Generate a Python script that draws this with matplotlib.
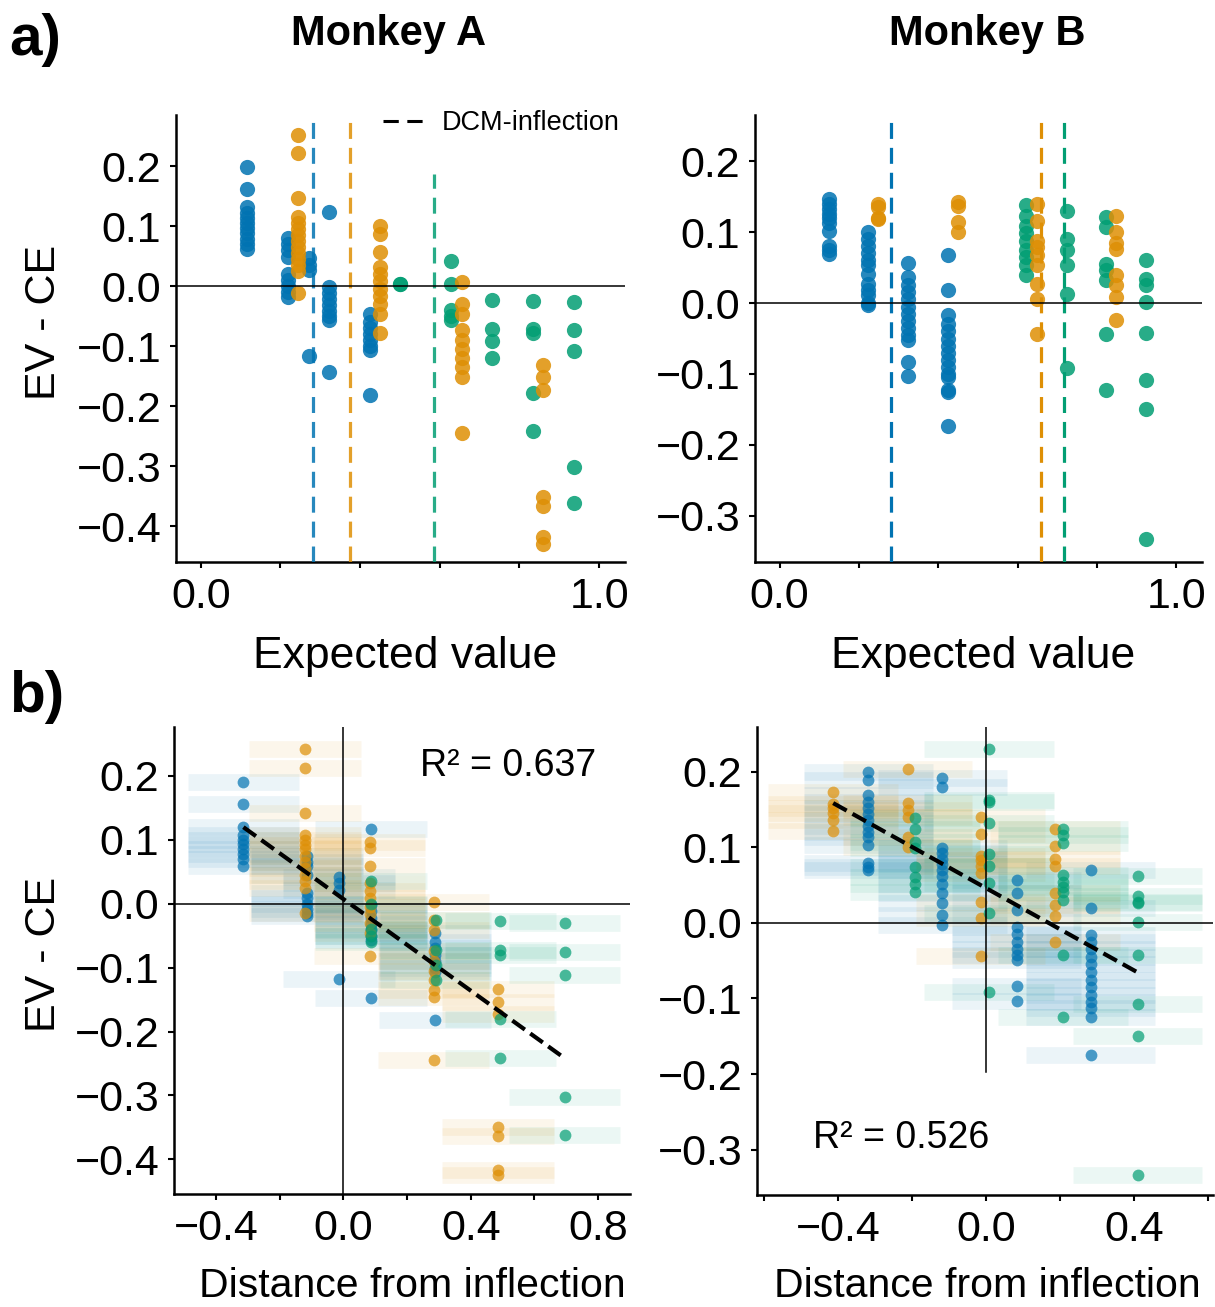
import numpy as np
import matplotlib
matplotlib.use('Agg')
import matplotlib.pyplot as plt
from matplotlib.lines import Line2D

plt.rcParams['font.family'] = ['Liberation Sans', 'DejaVu Sans']

BLUE, ORANGE, GREEN = '#0173B2', '#DE8F05', '#029E73'

# ---------------- Panel a, Monkey A (EV vs EV-CE) ----------------
evA_blue = [0.117, 0.219, 0.273, 0.322, 0.425]
ceA_blue = [[0.198, 0.162, 0.132, 0.122, 0.113, 0.105, 0.097, 0.088, 0.078, 0.07, 0.062],
            [0.08, 0.07, 0.06, 0.048, 0.02, 0.01, 0.0, -0.01, -0.018],
            [0.046, 0.035, 0.026, -0.116],
            [0.123, -0.002, -0.012, -0.022, -0.032, -0.042, -0.05, -0.057, -0.143],
            [-0.046, -0.06, -0.07, -0.08, -0.09, -0.1, -0.107, -0.181]]
evA_orange = [0.245, 0.45, 0.655, 0.858]
ceA_orange = [[0.251, 0.221, 0.147, 0.115, 0.105, 0.095, 0.085, 0.075, 0.065, 0.055, 0.045, 0.035, 0.025, -0.012],
              [0.1, 0.087, 0.057, 0.032, 0.02, 0.008, -0.005, -0.017, -0.03, -0.046, -0.078],
              [0.007, -0.03, -0.046, -0.074, -0.09, -0.105, -0.12, -0.135, -0.152, -0.245],
              [-0.132, -0.152, -0.174, -0.352, -0.366, -0.418, -0.43]]
evA_green = [0.5, 0.628, 0.731, 0.833, 0.936]
ceA_green = [[0.003, 0.003],
             [0.041, 0.003, -0.04, -0.05, -0.057],
             [-0.023, -0.071, -0.092, -0.12],
             [-0.025, -0.071, -0.078, -0.178, -0.242],
             [-0.027, -0.073, -0.108, -0.302, -0.362]]
inflA = [0.282, 0.374, 0.586]
inflA_top = [None, None, 0.187]

# ---------------- Panel a, Monkey B ----------------
evB_blue = [0.124, 0.224, 0.324, 0.425]
ceB_blue = [[0.147, 0.14, 0.133, 0.126, 0.12, 0.113, 0.101, 0.081, 0.075, 0.069],
            [0.1, 0.09, 0.08, 0.07, 0.06, 0.053, 0.041, 0.027, 0.018, 0.011, 0.0, -0.003],
            [0.056, 0.037, 0.025, 0.015, 0.005, -0.005, -0.015, -0.025, -0.035, -0.045, -0.052, -0.083, -0.103],
            [0.068, 0.018, -0.017, -0.03, -0.04, -0.05, -0.06, -0.07, -0.08, -0.09, -0.1, -0.104, -0.123, -0.125, -0.173]]
evB_orange = [0.249, 0.449, 0.648, 0.848]
ceB_orange = [[0.14, 0.135, 0.12, 0.118],
              [0.143, 0.137, 0.114, 0.1],
              [0.14, 0.116, 0.088, 0.079, 0.067, 0.053, 0.027, 0.006, -0.044],
              [0.122, 0.1, 0.084, 0.076, 0.039, 0.025, 0.009, -0.024]]
evB_green = [0.621, 0.724, 0.823, 0.924]
ceB_green = [[0.138, 0.123, 0.108, 0.098, 0.088, 0.075, 0.065, 0.054, 0.039],
             [0.13, 0.09, 0.075, 0.053, 0.013, -0.091],
             [0.121, 0.107, 0.055, 0.046, 0.032, -0.043, -0.123],
             [0.061, 0.034, 0.025, 0.001, -0.042, -0.108, -0.149, -0.332]]
inflB = [0.282, 0.659, 0.718]
inflB_top = [None, None, None]

# ---------------- Panel b, Monkey A (distance from inflection) ----------------
dA_blue = [-0.314, -0.115, -0.014, 0.087, 0.288]
yA_blue = [[0.19, 0.155, 0.12, 0.107, 0.1, 0.093, 0.085, 0.078, 0.07, 0.058],
           [0.075, 0.065, 0.058, 0.045, 0.016, 0.008, 0.0, -0.008, -0.015, -0.02],
           [0.042, 0.032, 0.021, -0.118],
           [0.117, -0.002, -0.012, -0.022, -0.032, -0.042, -0.05, -0.057, -0.147],
           [-0.046, -0.06, -0.07, -0.08, -0.09, -0.1, -0.107, -0.182]]
dA_orange = [-0.12, 0.082, 0.283, 0.486]
yA_orange = [[0.242, 0.212, 0.141, 0.107, 0.1, 0.092, 0.085, 0.075, 0.065, 0.055, 0.045, 0.035, 0.025, -0.015],
             [0.097, 0.087, 0.058, 0.032, 0.02, 0.008, -0.005, -0.017, -0.03, -0.046, -0.082],
             [0.003, -0.026, -0.042, -0.074, -0.09, -0.105, -0.12, -0.135, -0.146, -0.245],
             [-0.134, -0.154, -0.172, -0.35, -0.363, -0.417, -0.424]]
dA_green = [0.087, 0.29, 0.493, 0.695]
yA_green = [[0.036, 0.0, -0.04, -0.05, -0.06],
            [-0.026, -0.073, -0.096, -0.12],
            [-0.028, -0.073, -0.08, -0.18, -0.242],
            [-0.031, -0.076, -0.112, -0.302, -0.362]]
fitA = (-0.358, 0.007)
r2A = 'R² = 0.637'

# ---------------- Panel b, Monkey B ----------------
dB_blue = [-0.318, -0.118, 0.083, 0.283]
yB_blue = [[0.2, 0.189, 0.169, 0.16, 0.152, 0.144, 0.136, 0.128, 0.12, 0.114, 0.103, 0.079, 0.074, 0.07],
           [0.192, 0.18, 0.099, 0.092, 0.085, 0.078, 0.07, 0.062, 0.052, 0.04, 0.026, 0.01, -0.003],
           [0.057, 0.039, 0.017, -0.005, -0.015, -0.025, -0.035, -0.043, -0.049, -0.084, -0.104],
           [0.07, 0.019, -0.016, -0.025, -0.035, -0.045, -0.055, -0.065, -0.075, -0.085, -0.095, -0.105, -0.113, -0.124, -0.175]]
dB_orange = [-0.413, -0.212, -0.014, 0.187]
yB_orange = [[0.173, 0.157, 0.152, 0.145, 0.136, 0.121],
             [0.204, 0.159, 0.149, 0.14, 0.114, 0.1],
             [0.14, 0.117, 0.089, 0.083, 0.075, 0.066, 0.027, 0.006, -0.044],
             [0.124, 0.101, 0.085, 0.075, 0.039, 0.023, 0.009, -0.025]]
dB_green = [-0.192, 0.008, 0.209, 0.41]
yB_green = [[0.138, 0.124, 0.107, 0.099, 0.074, 0.061, 0.052, 0.041],
            [0.23, 0.163, 0.16, 0.132, 0.091, 0.075, 0.053, 0.013, -0.092],
            [0.124, 0.116, 0.106, 0.063, 0.054, 0.048, 0.041, 0.03, -0.042, -0.124],
            [0.062, 0.035, 0.028, 0.026, 0.001, -0.042, -0.108, -0.15, -0.334]]
fitB = (-0.272, 0.046)
r2B = 'R² = 0.526'

band_halfwidth = 0.175


def flatten(xs, vals):
    X, Y = [], []
    for x, v in zip(xs, vals):
        X += [x] * len(v)
        Y += list(v)
    return np.array(X), np.array(Y)


def style(ax, xlim, ylim, xticks, xticklabels, yticks):
    ax.set_xlim(xlim)
    ax.set_ylim(ylim)
    ax.set_xticks(xticks)
    ax.set_xticklabels(xticklabels)
    ax.set_yticks(yticks)
    for s in ['top', 'right']:
        ax.spines[s].set_visible(False)
    for s in ['left', 'bottom']:
        ax.spines[s].set_linewidth(1.8)
    ax.tick_params(direction='out', length=4.5, width=1.5, labelsize=31, pad=6)


fig = plt.figure(figsize=(12.15, 13.07), dpi=100)
W, H = 1215, 1307


def add_ax(l, r, t, b):
    return fig.add_axes([l / W, 1 - b / H, (r - l) / W, (b - t) / H])


axA = add_ax(176, 625, 115, 562)
axB = add_ax(755, 1202, 115, 562)
axbA = add_ax(174, 630, 727, 1194)
axbB = add_ax(757, 1213, 727, 1195)

# ---- panel a ----
a_sets = [
    (axA, [(evA_blue, ceA_blue, BLUE), (evA_green, ceA_green, GREEN), (evA_orange, ceA_orange, ORANGE)],
     inflA, inflA_top, (-0.46, 0.285), [0.2, 0.1, 0.0, -0.1, -0.2, -0.3, -0.4], 0.85),
    (axB, [(evB_blue, ceB_blue, BLUE), (evB_green, ceB_green, GREEN), (evB_orange, ceB_orange, ORANGE)],
     inflB, inflB_top, (-0.365, 0.265), [0.2, 0.1, 0.0, -0.1, -0.2, -0.3], 1.0),
]
for ax, series, infl, tops, ylim, yticks, lalpha in a_sets:
    for ev, ce, c in series:
        x, y = flatten(ev, ce)
        ax.scatter(x, y, s=120, color=c, alpha=0.85, linewidths=0, zorder=3)
    for xi, top, c in zip(infl, tops, [BLUE, ORANGE, GREEN]):
        ax.plot([xi, xi], [ylim[0], ylim[1] if top is None else top], ls='--', color=c,
                lw=2.3, alpha=lalpha, zorder=4, dashes=(5, 2.8))
    ax.axhline(0, color='k', lw=1.1, zorder=5)
    style(ax, (-0.062, 1.065), ylim, [0, 0.2, 0.4, 0.6, 0.8, 1.0],
          ['0.0', '', '', '', '', '1.0'], yticks)
    ax.set_xlabel('Expected value', fontsize=32)
    ax.xaxis.set_label_coords(0.51, -0.166)

axA.legend(handles=[Line2D([0], [0], color='k', ls='--', lw=2.2, dashes=(5, 2.8))],
           labels=['DCM-inflection'], loc='upper right', bbox_to_anchor=(1.013, 1.035),
           frameon=False, fontsize=19.5, handlelength=1.6, handletextpad=0.6,
           borderaxespad=0)
axA.set_ylabel('EV - CE', fontsize=31)
axA.yaxis.set_label_coords(-0.25, 0.537)

# ---- panel b ----
b_sets = [
    (axbA, [(dA_blue, yA_blue, BLUE), (dA_orange, yA_orange, ORANGE), (dA_green, yA_green, GREEN)],
     fitA, r2A, (-0.532, 0.9), (-0.454, 0.276), [0.2, 0.1, 0.0, -0.1, -0.2, -0.3, -0.4],
     [-0.4, -0.2, 0, 0.2, 0.4, 0.6, 0.8], ['\u22120.4', '', '0.0', '', '0.4', '', '0.8'],
     None, (0.241, 0.215)),
    (axbB, [(dB_blue, yB_blue, BLUE), (dB_orange, yB_orange, ORANGE), (dB_green, yB_green, GREEN)],
     fitB, r2B, (-0.619, 0.614), (-0.36, 0.259), [0.2, 0.1, 0.0, -0.1, -0.2, -0.3],
     [-0.6, -0.4, -0.2, 0, 0.2, 0.4, 0.6], ['', '\u22120.4', '', '0.0', '', '0.4', ''],
     -0.197, (-0.468, -0.285)),
]
for ax, series, fit, r2, xlim, ylim, yticks, xticks, xtl, vbot, tpos in b_sets:
    allx = []
    for d, yv, c in series:
        x, y = flatten(d, yv)
        allx += list(x)
        ax.hlines(y, x - band_halfwidth, x + band_halfwidth, colors=c, lw=12,
                  alpha=0.08, zorder=1)
    for d, yv, c in series:
        x, y = flatten(d, yv)
        ax.scatter(x, y, s=72, color=c, alpha=0.7, linewidths=0, zorder=3)
    xs = np.array([min(allx), max(allx)])
    ax.plot(xs, fit[0] * xs + fit[1], color='k', ls='--', lw=3, zorder=6)
    ax.axhline(0, color='k', lw=1.1, zorder=5)
    ax.plot([0, 0], [ylim[0] if vbot is None else vbot, ylim[1]], color='k', lw=1.1, zorder=5)
    ax.text(tpos[0], tpos[1], r2, fontsize=27, ha='left', va='center')
    style(ax, xlim, ylim, xticks, xtl, yticks)
    ax.set_xlabel('Distance from inflection', fontsize=29.5)

axbA.xaxis.set_label_coords(0.523, -0.156)
axbB.xaxis.set_label_coords(0.505, -0.153)
axbA.set_ylabel('EV - CE', fontsize=31)
axbA.yaxis.set_label_coords(-0.241, 0.512)

# ---- titles / panel letters ----
fig.text(389 / W, 1 - 45 / H, 'Monkey A', fontsize=30, fontweight='bold', ha='center', va='baseline')
fig.text(987 / W, 1 - 45 / H, 'Monkey B', fontsize=30, fontweight='bold', ha='center', va='baseline')
fig.text(9 / W, 1 - 55 / H, 'a)', fontsize=42, fontweight='bold', ha='left', va='baseline')
fig.text(9 / W, 1 - 712 / H, 'b)', fontsize=42, fontweight='bold', ha='left', va='baseline')

fig.savefig('out.png', dpi=100)
